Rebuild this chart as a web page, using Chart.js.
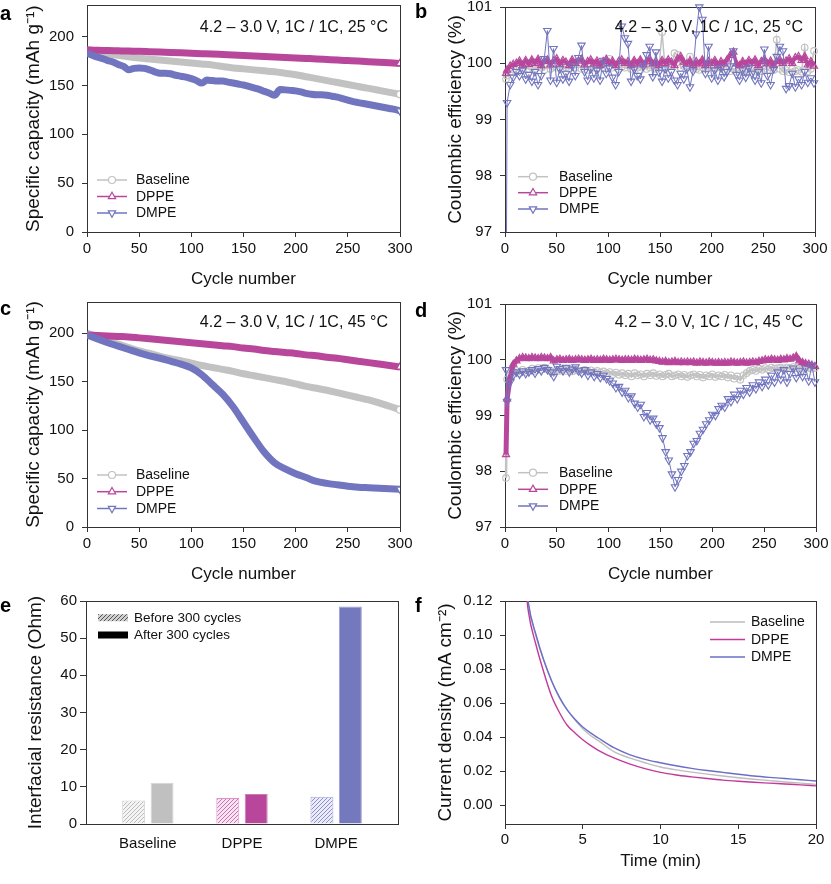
<!DOCTYPE html>
<html>
<head>
<meta charset="utf-8">
<script src="https://cdn.jsdelivr.net/npm/chart.js@4.4.1/dist/chart.umd.min.js"></script>
<style>
  html, body { margin: 0; padding: 0; background: #fff; }
  #page { position: relative; width: 831px; height: 884px; }
  #page canvas { position: absolute; }
</style>
</head>
<body>
<div id="page">
  <canvas id="ca" style="left:0;top:0" width="415" height="290"></canvas>
  <canvas id="cb" style="left:415px;top:0" width="416" height="290"></canvas>
  <canvas id="cc" style="left:0;top:290px" width="415" height="295"></canvas>
  <canvas id="cd" style="left:415px;top:290px" width="416" height="295"></canvas>
  <canvas id="ce" style="left:0;top:585px" width="415" height="299"></canvas>
  <canvas id="cf" style="left:415px;top:585px" width="416" height="299"></canvas>
</div>
<script>
// ---- data ----
const seriesNames = ['Baseline', 'DPPE', 'DMPE'];

// a: capacity at 25 °C
const cycA10 = [0, 10, 20, 30, 40, 50, 60, 70, 80, 90, 100, 110, 120, 130, 140, 150,
  160, 170, 180, 190, 200, 210, 220, 230, 240, 250, 260, 270, 280, 290, 300];
const cycA5 = [0, 5, 10, 15, 20, 25, 30, 35, 40, 45, 50, 55, 60, 65, 70, 75, 80, 85, 90, 95,
  100, 105, 110, 115, 120, 125, 130, 135, 140, 145, 150, 155, 160, 165, 170, 175, 180, 185,
  190, 195, 200, 205, 210, 215, 220, 225, 230, 235, 240, 245, 250, 255, 260, 265, 270, 275,
  280, 285, 290, 295, 300];
const capA_Base = [186, 184, 182.5, 181, 179.5, 178, 177, 176, 175, 174, 173, 172, 171, 169.5,
  168, 167, 166, 165, 164, 162.5, 161, 159, 157, 155, 153, 151, 149, 147, 145, 143, 141];
const capA_DPPE = [186.5, 186, 185.8, 185.5, 185.2, 185, 184.6, 184.2, 183.8, 183.4, 183,
  182.6, 182.2, 181.7, 181.2, 180.7, 180.2, 179.7, 179.2, 178.7, 178.2, 177.7, 177.2, 176.6,
  176, 175.5, 175, 174.4, 173.8, 173.2, 172.6];
const capA_DMPE = [183, 181, 179, 177.5, 175.5, 174, 171.5, 169.5, 166, 167.5, 168, 167.5, 166,
  164, 162.5, 162.5, 162, 160.5, 159.5, 158.5, 157, 155, 152.5, 155.5, 155, 154.5, 154.5, 153.5,
  152.5, 151.5, 150.5, 149, 147.5, 146, 144, 142, 140, 146, 145.5, 145, 144.5, 143.5, 142,
  141, 140.5, 140.5, 140, 139, 138, 136.5, 135, 133.5, 132.5, 131.5, 130.5, 129.5, 128.5,
  127.5, 126.5, 125.5, 124];

// c: capacity at 45 °C
const capC_Base = [200, 196, 192, 188.5, 185, 181.5, 179, 176, 173.5, 171.5, 169, 166.5, 164.5,
  162.5, 160.5, 158, 156, 154, 152, 150, 147.5, 145, 143, 141, 138.5, 136, 133.5, 131, 128,
  124.5, 121];
const capC_DPPE = [198, 197.5, 197, 196.5, 196, 195, 194, 193, 192, 191, 190, 189, 188, 187, 186,
  184.5, 183.5, 182, 181, 180, 179, 177.5, 176.5, 175, 174, 172.5, 171, 169.5, 168, 166.5, 165];
const capC_DMPE = [198, 194, 190, 186.5, 183, 179.5, 176.5, 174, 171, 168, 164, 157, 147, 137, 124,
  108, 92, 77, 66, 60, 55, 51, 47, 45, 43.5, 42, 41, 40.5, 40, 39.5, 39];

// b, d: coulombic efficiency
const cycCE = [1, 2, 5, 8, 11, 14, 17, 20, 23, 26, 29, 32, 35, 38, 41, 44, 47, 50, 53, 56, 59,
  62, 65, 68, 71, 74, 77, 80, 83, 86, 89, 92, 95, 98, 101, 104, 107, 110, 113, 116, 119, 122,
  125, 128, 131, 134, 137, 140, 143, 146, 149, 152, 155, 158, 161, 164, 167, 170, 173, 176,
  179, 182, 185, 188, 191, 194, 197, 200, 203, 206, 209, 212, 215, 218, 221, 224, 227, 230,
  233, 236, 239, 242, 245, 248, 251, 254, 257, 260, 263, 266, 269, 272, 275, 278, 281, 284,
  287, 290, 293, 296, 299];
const ceB_Base = [
  99.72, 99.78, 99.85, 99.9, 99.88, 99.92, 99.9, 99.95, 99.9, 99.93,
  99.9, 99.95, 99.92, 99.88, 99.96, 99.9, 99.94, 99.92, 99.97, 99.9,
  99.93, 99.9, 99.96, 99.92, 99.98, 99.9, 99.94, 99.88, 99.95, 99.92,
  99.9, 99.96, 99.93, 100.02, 100.08, 99.92, 99.95, 99.9, 99.94, 99.92,
  99.96, 99.9, 99.94, 99.92, 99.88, 99.95, 99.9, 99.93, 99.96, 99.9,
  99.92, 100.55, 99.9, 99.94, 99.95, 100.18, 100.15, 99.92, 99.95, 99.96,
  100.12, 99.92, 99.9, 99.88, 99.93, 99.9, 99.95, 99.92, 99.9, 99.94,
  99.92, 99.88, 99.9, 99.86, 99.9, 99.85, 99.88, 99.84, 99.9, 99.86,
  99.88, 99.85, 99.9, 99.86, 99.9, 99.88, 99.92, 99.88, 100.42, 99.9,
  99.86, 99.88, 99.84, 99.9, 99.86, 99.88, 99.85, 100.28, 99.86, 99.9,
  100.22];
const ceB_DPPE = [
  99.82, 99.88, 99.95, 99.98, 100.0, 100.04, 99.96, 100.05, 99.98, 100.06,
  100.0, 100.07, 99.96, 100.03, 100.06, 99.97, 100.04, 100.08, 99.98, 100.05,
  100.02, 99.96, 100.06, 100.0, 100.04, 100.07, 99.97, 100.03, 100.06, 99.99,
  100.04, 99.96, 100.03, 100.07, 99.99, 100.04, 99.96, 100.03, 100.06, 100.0,
  100.03, 99.96, 100.05, 99.99, 100.06, 99.97, 100.03, 100.07, 99.99, 100.03,
  99.96, 100.05, 100.0, 100.06, 100.02, 99.96, 100.08, 100.12, 100.02, 99.99,
  100.04, 99.96, 100.03, 99.99, 100.06, 99.96, 100.03, 100.0, 100.05, 99.96,
  100.03, 99.99, 100.06, 100.14, 100.2, 99.99, 99.96, 100.03, 99.98, 100.05,
  100.0, 100.06, 99.96, 100.03, 100.07, 99.99, 100.04, 99.96, 100.03, 100.06,
  100.0, 100.04, 100.08, 100.0, 100.1, 100.12, 100.05, 100.12, 99.97, 100.03,
  99.95];
const ceB_DMPE = [
  95.0, 99.3, 99.62, 99.75, 99.85, 99.78, 99.88, 99.72, 99.8, 99.68,
  99.85, 99.62, 99.78, 100.08, 100.58, 99.7, 100.26, 99.66, 99.9, 99.72,
  99.82, 99.68, 99.95, 99.78, 100.1, 100.32, 99.85, 99.7, 99.9, 99.74,
  99.88, 99.7, 100.05, 99.82, 99.92, 99.75, 99.62, 99.85, 100.66, 100.45,
  100.35, 99.68, 99.9, 99.78, 99.72, 99.95, 100.15, 100.3, 99.76, 100.2,
  99.84, 99.68, 99.9, 99.74, 99.85, 99.7, 99.62, 99.82, 99.72, 99.9,
  99.58, 99.86, 100.52, 101.0, 100.78, 99.82, 100.3, 99.74, 99.88, 99.7,
  99.92, 99.76, 99.85, 99.95, 100.22, 99.8, 99.7, 99.88, 99.75, 99.92,
  99.82, 99.7, 99.85, 99.65, 100.25, 99.78, 99.62, 99.9, 100.12, 100.3,
  100.22, 99.55, 99.6, 99.82, 99.58, 99.72, 99.62, 99.85, 99.66, 99.74,
  99.65];
const ceD_Base = [
  97.88, 99.65, 99.72, 99.78, 99.8, 99.76, 99.82, 99.78, 99.8, 99.84,
  99.8, 99.85, 99.82, 99.86, 99.83, 99.8, 99.78, 99.82, 99.8, 99.84,
  99.8, 99.83, 99.79, 99.82, 99.8, 99.78, 99.82, 99.79, 99.81, 99.78,
  99.8, 99.77, 99.79, 99.76, 99.78, 99.74, 99.77, 99.73, 99.76, 99.72,
  99.75, 99.7, 99.76, 99.72, 99.74, 99.7, 99.75, 99.72, 99.76, 99.71,
  99.74, 99.7, 99.73, 99.75, 99.7, 99.72, 99.74, 99.7, 99.73, 99.69,
  99.72, 99.74, 99.7, 99.73, 99.68, 99.72, 99.7, 99.74, 99.69, 99.72,
  99.7, 99.73, 99.68, 99.72, 99.66, 99.7, 99.64, 99.72, 99.76, 99.8,
  99.82, 99.8, 99.84, 99.82, 99.85, 99.83, 99.86, 99.84, 99.85, 99.86,
  99.84, 99.86, 99.85, 99.87, 99.85, 99.86, 99.84, 99.86, 99.85, 99.84,
  99.85];
const ceD_DPPE = [
  98.3, 99.3, 99.68, 99.92, 99.98, 100.02, 100.04, 100.03, 100.02, 100.04,
  100.03, 100.02, 100.04, 100.03, 100.02, 100.04, 99.98, 100.0, 100.01, 99.99,
  100.0, 100.01, 99.99, 100.0, 100.01, 100.0, 99.99, 100.0, 100.01, 99.99,
  100.0, 99.99, 100.01, 100.0, 99.99, 100.0, 100.01, 100.0, 99.99, 100.0,
  100.0, 99.99, 100.01, 100.0, 99.99, 100.0, 100.01, 99.99, 100.0, 99.98,
  99.97, 99.96, 99.97, 99.95, 99.96, 99.97, 99.95, 99.96, 99.95, 99.96,
  99.95, 99.96, 99.94, 99.96, 99.95, 99.94, 99.96, 99.95, 99.94, 99.95,
  99.94, 99.95, 99.94, 99.96, 99.95, 99.94, 99.95, 99.96, 99.94, 99.95,
  99.96, 99.95, 99.97, 99.98, 100.0, 99.99, 100.01, 100.0, 99.99, 100.01,
  100.0, 100.02, 100.01, 100.03, 100.06, 99.98, 99.95, 99.93, 99.92, 99.9,
  99.88];
const ceD_DMPE = [
  99.82, 99.25, 99.6, 99.72, 99.78, 99.74, 99.8, 99.75, 99.78, 99.82,
  99.76, 99.84, 99.8, 99.86, 99.82, 99.78, 99.7, 99.88, 99.84, 99.8,
  99.86, 99.78, 99.83, 99.87, 99.8, 99.76, 99.82, 99.72, 99.78, 99.7,
  99.75, 99.68, 99.72, 99.66, 99.62, 99.58, 99.5, 99.52, 99.42, 99.45,
  99.32, 99.35, 99.22, 99.15, 99.2, 98.98, 99.05, 98.92, 98.95, 98.85,
  98.78, 98.6, 98.35, 98.2, 97.95, 97.72, 97.85, 98.0, 98.1, 98.28,
  98.35, 98.5, 98.55, 98.68, 98.75, 98.85, 98.92, 99.02, 99.0, 99.12,
  99.18, 99.15, 99.3, 99.25, 99.38, 99.3, 99.45, 99.38, 99.5, 99.42,
  99.55, 99.48, 99.6, 99.52, 99.65, 99.55, 99.72, 99.6, 99.78, 99.65,
  99.82, 99.6, 99.75, 99.85, 99.68, 99.8, 99.7, 99.85, 99.62, 99.9,
  99.6];

// e: interfacial resistance
const groups = ['Baseline', 'DPPE', 'DMPE'];
const resBefore = [6.3, 7.0, 7.3];
const resAfter = [11.1, 8.1, 58.5];

// f: current density vs time
const timeF = [1, 1.5, 2, 2.5, 3, 3.5, 4, 4.5, 5, 5.5, 6, 7, 8, 9, 10, 11, 12, 13, 14, 15, 16, 17, 18, 19, 20];
const curF_Base = [0.16, 0.118, 0.099, 0.085, 0.073, 0.063, 0.056, 0.05, 0.045, 0.041, 0.038, 0.0315,
  0.0278, 0.025, 0.0225, 0.0208, 0.0195, 0.0183, 0.0172, 0.0162, 0.0153, 0.0145, 0.0137, 0.013, 0.0123];
const curF_DPPE = [0.16, 0.114, 0.094, 0.078, 0.064, 0.0545, 0.047, 0.0425, 0.0385, 0.0352, 0.0323, 0.0278,
  0.0243, 0.0215, 0.0193, 0.0178, 0.0167, 0.0157, 0.0148, 0.0141, 0.0135, 0.013, 0.0125, 0.012, 0.0114];
const curF_DMPE = [0.165, 0.119, 0.1, 0.085, 0.073, 0.0635, 0.056, 0.0505, 0.046, 0.0425, 0.0395, 0.0338,
  0.0298, 0.027, 0.025, 0.0232, 0.0217, 0.0204, 0.0193, 0.0182, 0.0172, 0.0164, 0.0157, 0.015, 0.0143];

// ---- styling ----
const FONT = "'Liberation Sans', Arial, Helvetica, sans-serif";
Chart.defaults.font.family = FONT;
Chart.defaults.font.size = 15;
Chart.defaults.color = '#111';
Chart.defaults.events = [];

const GRAY = '#c2c2c2', PINK = '#b8479c', BLUE = '#7174be';
const NOTE25 = '4.2 \u2013 3.0 V, 1C / 1C, 25 \u00b0C';
const NOTE45 = '4.2 \u2013 3.0 V, 1C / 1C, 45 \u00b0C';

function pts(xs, ys) { return xs.map((x, i) => ({ x: x, y: ys[i] })); }

function hatch(line, bg) {
  const c = document.createElement('canvas');
  c.width = 4; c.height = 4;
  const g = c.getContext('2d');
  g.fillStyle = bg; g.fillRect(0, 0, 4, 4);
  g.strokeStyle = line; g.lineWidth = 1;
  g.beginPath();
  g.moveTo(0, 4); g.lineTo(4, 0);
  g.moveTo(-1, 1); g.lineTo(1, -1);
  g.moveTo(3, 5); g.lineTo(5, 3);
  g.stroke();
  return g.createPattern(c, 'repeat');
}

// pin the axis boxes so the plot frames land where they are in the figure
function fixBox(w, h) {
  return function (s) {
    if (w !== null) s.width = w;
    if (h !== null) s.height = h;
    s.paddingLeft = 0; s.paddingRight = 0; s.paddingTop = 0; s.paddingBottom = 0;
  };
}

function xAxis(min, max, step, title, h, pad, tpad) {
  return {
    type: 'linear', min: min, max: max, offset: false,
    border: { display: false },
    grid: { drawOnChartArea: false, drawTicks: true, tickLength: 5, color: '#333', offset: false },
    ticks: { stepSize: step, padding: pad, maxRotation: 0, autoSkip: false, includeBounds: false },
    title: { display: !!title, text: title, font: { size: 17 }, padding: { top: 0, bottom: tpad } },
    afterFit: fixBox(null, h)
  };
}

function yAxis(min, max, step, title, w, pad, tpad, fmt) {
  return {
    type: 'linear', min: min, max: max,
    border: { display: false },
    grid: { drawOnChartArea: false, drawTicks: true, tickLength: 5, color: '#333' },
    ticks: { stepSize: step, padding: pad, includeBounds: false, callback: fmt || (v => String(v)) },
    title: { display: true, text: title, font: { size: 19 }, padding: { top: tpad, bottom: 0 } },
    afterFit: fixBox(w, null)
  };
}

function baseOpts(padding, x, y) {
  return {
    responsive: false, animation: false, devicePixelRatio: 1,
    layout: { padding: padding },
    scales: { x: x, y: y },
    plugins: { legend: { display: false }, tooltip: { enabled: false } }
  };
}

// dense marker runs in a and c look like thick bands; end marker on the last cycle
function band(label, data, color, style, r, order) {
  return {
    label: label, data: data, order: order,
    borderColor: color, borderWidth: 7, borderCapStyle: 'butt', borderJoinStyle: 'round',
    cubicInterpolationMode: 'monotone',
    pointStyle: style === 'circle' ? 'circle' : 'triangle',
    pointRotation: style === 'down' ? 180 : 0,
    pointRadius: c => (c.dataIndex === c.dataset.data.length - 1 ? r : 0),
    pointBorderWidth: 1.2, pointBorderColor: color, pointBackgroundColor: '#fff'
  };
}

function ceSet(label, data, color, style, r, order, lw, fill) {
  return {
    label: label, data: data, order: order,
    borderColor: color, borderWidth: lw,
    pointStyle: style === 'circle' ? 'circle' : 'triangle',
    pointRotation: style === 'down' ? 180 : 0,
    pointRadius: r, pointBorderWidth: 1.1, pointBorderColor: color,
    pointBackgroundColor: fill || 'rgba(255,255,255,0)',
    clip: { left: 6, top: 6, right: 6, bottom: 0 }
  };
}

function marker(ctx, style, x, y, r) {
  ctx.beginPath();
  if (style === 'circle') {
    ctx.arc(x, y, r, 0, Math.PI * 2);
  } else {
    const s = style === 'up' ? -1 : 1;
    ctx.moveTo(x, y + s * r);
    ctx.lineTo(x + r * 0.866, y - s * r * 0.5);
    ctx.lineTo(x - r * 0.866, y - s * r * 0.5);
    ctx.closePath();
  }
  ctx.fillStyle = '#fff';
  ctx.fill();
  ctx.stroke();
}

// frame, panel letter, condition note and in-plot legend
function decor(spec) {
  return {
    id: 'decor',
    beforeDatasetsDraw(chart) {
      const ctx = chart.ctx, a = chart.chartArea;
      const px = v => Math.round(v - 0.5) + 0.5;
      ctx.save();
      ctx.strokeStyle = '#333'; ctx.lineWidth = 1;
      ctx.strokeRect(px(a.left), px(a.top), Math.round(a.right - a.left), Math.round(a.bottom - a.top));
      ctx.restore();
    },
    afterDraw(chart) {
      const ctx = chart.ctx;
      ctx.save();
      ctx.fillStyle = '#000';
      ctx.textAlign = 'left'; ctx.textBaseline = 'alphabetic';
      ctx.font = 'bold 20px ' + FONT;
      ctx.fillText(spec.letter, spec.lx, spec.ly);
      if (spec.note) {
        ctx.font = '16px ' + FONT; ctx.textAlign = 'right'; ctx.fillStyle = '#111';
        ctx.fillText(spec.note, spec.nx, spec.ny);
      }
      const L = spec.legend;
      if (L) {
        ctx.font = L.size + 'px ' + FONT;
        ctx.textAlign = 'left'; ctx.textBaseline = 'middle';
        L.items.forEach((it, i) => {
          const y = L.ys[i];
          if (it.box) {
            ctx.fillStyle = it.box;
            ctx.fillRect(L.x0, y - 3.5, L.x1 - L.x0, 7);
          } else {
            ctx.strokeStyle = it.color; ctx.lineWidth = L.lw;
            ctx.beginPath(); ctx.moveTo(L.x0, y); ctx.lineTo(L.x1, y); ctx.stroke();
            if (it.marker) {
              ctx.lineWidth = 1.2;
              marker(ctx, it.marker, (L.x0 + L.x1) / 2, y, it.r);
            }
          }
          ctx.fillStyle = '#111';
          ctx.fillText(it.label, L.tx, y + 0.5);
        });
      }
      ctx.restore();
    }
  };
}

const markerItems = [
  { label: seriesNames[0], color: GRAY, marker: 'circle', r: 3.5 },
  { label: seriesNames[1], color: PINK, marker: 'up', r: 4.2 },
  { label: seriesNames[2], color: BLUE, marker: 'down', r: 4.2 }
];

// ---- a ----
new Chart(document.getElementById('ca'), {
  type: 'line',
  data: { datasets: [
    band(seriesNames[0], pts(cycA10, capA_Base), GRAY, 'circle', 3.5, 3),
    band(seriesNames[1], pts(cycA10, capA_DPPE), PINK, 'up', 4.2, 2),
    band(seriesNames[2], pts(cycA5, capA_DMPE), BLUE, 'down', 4.2, 1)
  ]},
  options: baseOpts({ left: 0, top: 5, right: 15, bottom: 0 },
    xAxis(0, 300, 50, 'Cycle number', 58, 3, 0),
    yAxis(0, 232, 50, 'Specific capacity (mAh g\u207b\u00b9)', 87, 8, 22.6)),
  plugins: [decor({ letter: 'a', lx: 0, ly: 20, note: NOTE25, nx: 388, ny: 32,
    legend: { x0: 97, x1: 127, tx: 136, ys: [180, 196.5, 213], lw: 1.5, size: 14, items: markerItems } })]
});

// ---- b ----
new Chart(document.getElementById('cb'), {
  type: 'line',
  data: { datasets: [
    ceSet(seriesNames[0], pts(cycCE, ceB_Base), GRAY, 'circle', 3.3, 3, 1.5),
    ceSet(seriesNames[1], pts(cycCE, ceB_DPPE), PINK, 'up', 4.2, 2, 3.5, 'rgba(184,71,156,0.3)'),
    ceSet(seriesNames[2], pts(cycCE, ceB_DMPE), BLUE, 'down', 4.3, 1, 1)
  ]},
  options: baseOpts({ left: 0, top: 7, right: 16, bottom: 0 },
    xAxis(0, 300, 50, 'Cycle number', 58, 3, 0),
    yAxis(97, 101, 1, 'Coulombic efficiency (%)', 90, 8, 29)),
  plugins: [decor({ letter: 'b', lx: 0, ly: 18, note: NOTE25, nx: 388, ny: 32,
    legend: { x0: 103, x1: 133, tx: 144, ys: [176.7, 192.7, 209], lw: 1.5, size: 14, items: markerItems } })]
});

// ---- c ----
new Chart(document.getElementById('cc'), {
  type: 'line',
  data: { datasets: [
    band(seriesNames[0], pts(cycA10, capC_Base), GRAY, 'circle', 3.5, 3),
    band(seriesNames[1], pts(cycA10, capC_DPPE), PINK, 'up', 4.2, 2),
    band(seriesNames[2], pts(cycA10, capC_DMPE), BLUE, 'down', 4.2, 1)
  ]},
  options: baseOpts({ left: 0, top: 12, right: 15, bottom: 0 },
    xAxis(0, 300, 50, 'Cycle number', 58, 3, 0),
    yAxis(0, 232, 50, 'Specific capacity (mAh g\u207b\u00b9)', 87, 8, 22.6)),
  plugins: [decor({ letter: 'c', lx: 0, ly: 25, note: NOTE45, nx: 388, ny: 37,
    legend: { x0: 97, x1: 127, tx: 136, ys: [185, 201.7, 218.5], lw: 1.5, size: 14, items: markerItems } })]
});

// ---- d ----
new Chart(document.getElementById('cd'), {
  type: 'line',
  data: { datasets: [
    ceSet(seriesNames[0], pts(cycCE, ceD_Base), GRAY, 'circle', 3.3, 3, 2.5),
    ceSet(seriesNames[1], pts(cycCE, ceD_DPPE), PINK, 'up', 4.2, 2, 5, 'rgba(184,71,156,0.3)'),
    ceSet(seriesNames[2], pts(cycCE, ceD_DMPE), BLUE, 'down', 4.3, 1, 1)
  ]},
  options: baseOpts({ left: 0, top: 14, right: 15, bottom: 0 },
    xAxis(0, 300, 50, 'Cycle number', 58, 3, 0),
    yAxis(97, 101, 1, 'Coulombic efficiency (%)', 90, 8, 29)),
  plugins: [decor({ letter: 'd', lx: 0, ly: 27, note: NOTE45, nx: 388, ny: 37,
    legend: { x0: 103, x1: 133, tx: 144, ys: [182.7, 199.3, 216], lw: 1.5, size: 14, items: markerItems } })]
});

// ---- e ----
const hatchBefore = [hatch('#bcbcbc', '#f4f4f4'), hatch('#d070b5', '#f8e4f1'), hatch('#8e91d0', '#eaebf7')];
const xE = xAxis(0.343, 3.657, 1, '', 60, 11, 0);
xE.grid = { display: false, drawTicks: false };
xE.afterBuildTicks = s => { s.ticks = [1, 2, 3].map(v => ({ value: v })); };
xE.ticks.callback = (v, i) => groups[i];
const yE = yAxis(0, 60, 10, 'Interfacial resistance (Ohm)', 86, 3, 24.6);
yE.grid.tickLength = 6;
new Chart(document.getElementById('ce'), {
  type: 'bar',
  data: { datasets: [
    { label: 'Before 300 cycles', data: pts([1, 2, 3], resBefore), backgroundColor: hatchBefore,
      borderColor: ['#d4d4d4', '#dc93c8', '#a6a8da'], borderWidth: 1,
      categoryPercentage: 0.604, barPercentage: 0.807 },
    { label: 'After 300 cycles', data: pts([1, 2, 3], resAfter), backgroundColor: ['#c0c0c0', PINK, '#7478bc'],
      borderColor: ['#d6d6d6', '#cf7ab9', '#9c9fd4'], borderWidth: 1,
      categoryPercentage: 0.604, barPercentage: 0.807 }
  ]},
  options: baseOpts({ left: 0, top: 16, right: 17, bottom: 0 }, xE, yE),
  plugins: [decor({ letter: 'e', lx: 0, ly: 27,
    legend: { x0: 98, x1: 128, tx: 134, ys: [32.7, 50], size: 13.5, items: [
      { label: 'Before 300 cycles', box: hatch('#555', '#d0d0d0') },
      { label: 'After 300 cycles', box: '#000' }
    ] } })]
});

// ---- f ----
function curve(label, data, color, order) {
  return { label: label, data: data, order: order, borderColor: color, borderWidth: 1.4,
    pointRadius: 0, cubicInterpolationMode: 'monotone' };
}
new Chart(document.getElementById('cf'), {
  type: 'line',
  data: { datasets: [
    curve(seriesNames[0], pts(timeF, curF_Base), '#bdbdbd', 3),
    curve(seriesNames[1], pts(timeF, curF_DPPE), '#c2399a', 2),
    curve(seriesNames[2], pts(timeF, curF_DMPE), '#6a6ec6', 1)
  ]},
  options: baseOpts({ left: 0, top: 16, right: 15, bottom: 0 },
    xAxis(0, 20, 5, 'Time (min)', 60, 2, 12),
    yAxis(-0.011, 0.12, 0.02, 'Current density (mA cm\u207b\u00b2)', 90, 7.5, 19.6, v => v.toFixed(2))),
  plugins: [decor({ letter: 'f', lx: 0, ly: 27,
    legend: { x0: 295, x1: 330, tx: 336, ys: [37, 54.5, 72], lw: 1.5, size: 14, items: [
      { label: seriesNames[0], color: '#bdbdbd' },
      { label: seriesNames[1], color: '#c2399a' },
      { label: seriesNames[2], color: '#6a6ec6' }
    ] } })]
});
</script>
</body>
</html>
